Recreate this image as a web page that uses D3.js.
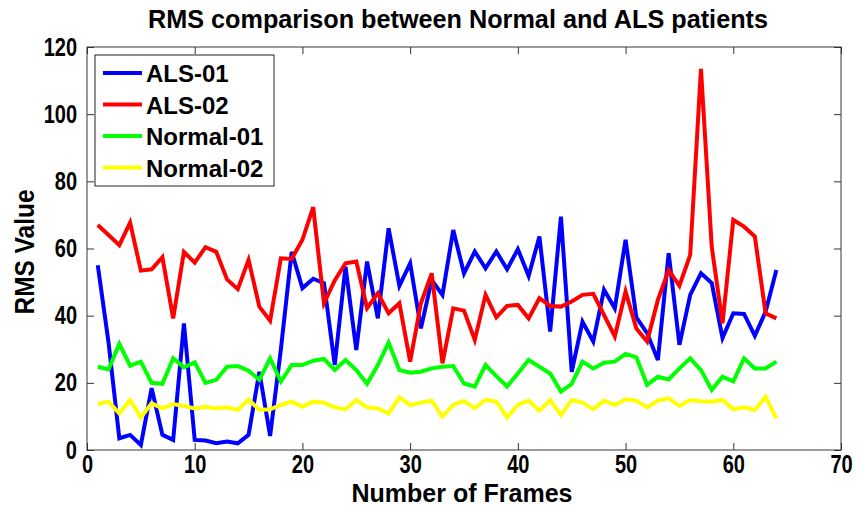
<!DOCTYPE html>
<html>
<head>
<meta charset="utf-8">
<script src="https://cdn.jsdelivr.net/npm/d3@7"></script>
<style>
  body { margin: 0; background: #fff; }
  text { font-family: "Liberation Sans", Arial, sans-serif; font-weight: bold; }
</style>
</head>
<body>
<svg id="chart"></svg>
<script>
// chart data
let frames = d3.range(1, 65)

let als01 = [55, 32, 3.5, 4.5, 1.5, 18.4, 4.5, 3, 37.7, 3, 2.8, 2, 2.5, 2, 4.5, 23.3,
  4.2, 30, 59, 48.2, 51, 49.7, 25.3, 54.6, 29.8, 56.1, 39.2, 66, 48.9, 55.6, 36.2, 50.6,
  46.2, 65.5, 52.6, 59.1, 54.1, 59.1, 53.8, 59.8, 51.8, 63.6, 35.3, 69.5, 23.3, 38.2,
  32.3, 47.7, 42.2, 62.6, 39.5, 34.8, 26.8, 58.6, 31.3, 46.2, 52.6, 49.7, 33.3, 40.7,
  40.5, 34, 41.2, 53.6]

let als02 = [67, 64, 61, 67.7, 53.4, 53.8, 57.4, 39.2, 59, 55.8, 60.4, 59, 50.8, 47.9,
  56.6, 42.7, 38.5, 57.1, 56.9, 62.6, 72.3, 43.7, 50.5, 55.6, 56.1, 42.2, 46.7, 40.7,
  43.7, 26.3, 43.7, 52.6, 25.8, 42.2, 41.5, 32.8, 46.2, 39.5, 42.9, 43.2, 39.2, 45.2,
  42.9, 42.7, 44.2, 46.2, 46.5, 40.2, 33.8, 47.2, 36.2, 32.3, 44.7, 53.6, 48.9, 58.1,
  113.5, 60.5, 37.7, 68.5, 66.5, 63.6, 40.7, 39.2]

let normal01 = [24.8, 24, 31.6, 25.1, 26.3, 20, 19.7, 27.3, 24.6, 26.1, 20, 20.9, 24.8,
  25, 23.6, 20.9, 27.3, 20.4, 25.3, 25.3, 26.6, 27.1, 23.8, 26.8, 23.8, 19.7, 25.3, 32,
  23.8, 23, 23.3, 24.3, 24.8, 25, 19.8, 18.9, 25.3, 22, 18.9, 22.8, 26.8, 24.8, 22.8,
  17.4, 19.7, 26.3, 24.3, 26, 26.3, 28.6, 27.6, 19.4, 21.8, 21, 24.3, 27.3, 23.8, 17.9,
  21.8, 20.4, 27.3, 24.3, 24.3, 26.3]

let normal02 = [13.7, 14.4, 10.9, 14.9, 9.7, 13.9, 12.4, 13.7, 13.1, 12.4, 12.9, 12.4,
  12.7, 11.9, 15.1, 11.9, 12.1, 13.4, 14.4, 12.9, 14.4, 14.1, 12.7, 12.1, 14.9, 12.7,
  12.4, 10.9, 15.7, 13.4, 14.1, 14.7, 9.9, 13.4, 14.6, 12.4, 14.9, 14.4, 9.7, 13.4,
  14.7, 11.7, 14.9, 10.4, 14.9, 14.1, 12.1, 14.7, 13.4, 15.1, 14.7, 12.7, 14.7, 15.4,
  13.1, 14.9, 14.5, 14.4, 14.9, 12.1, 12.7, 11.9, 15.9, 9.4]

let seriesNames = ['ALS-01', 'ALS-02', 'Normal-01', 'Normal-02']
let seriesColors = ['#0000ff', '#ff0000', '#00ff00', '#ffff00']
let xTicks = [0, 10, 20, 30, 40, 50, 60, 70]
let yTicks = [0, 20, 40, 60, 80, 100, 120]

let width = 857
let height = 506
let plotLeft = 87, plotRight = 841, plotTop = 47, plotBottom = 450
let squeeze = 0.8 // the original font is a narrow bold face

let svg = d3.select('#chart')
    .attr('width', width)
    .attr('height', height)

let xScale = d3.scaleLinear().domain([0, 70]).range([plotLeft, plotRight])
let yScale = d3.scaleLinear().domain([0, 120]).range([plotBottom, plotTop])

let allSeries = [als01, als02, normal01, normal02]

// box
svg.append('rect')
    .attr('x', plotLeft).attr('y', plotTop)
    .attr('width', plotRight - plotLeft).attr('height', plotBottom - plotTop)
    .attr('fill', 'none')
    .attr('stroke', '#666')
    .attr('stroke-width', 1.3)

// axes, ticks pointing inward
let xAxis = d3.axisBottom(xScale).tickValues(xTicks).tickSizeInner(-7).tickSizeOuter(0).tickPadding(5)
let xAxisTop = d3.axisTop(xScale).tickValues(xTicks).tickSizeInner(-7).tickSizeOuter(0).tickFormat('')
let yAxis = d3.axisLeft(yScale).tickValues(yTicks).tickSizeInner(-7).tickSizeOuter(0).tickPadding(0)
let yAxisRight = d3.axisRight(yScale).tickValues(yTicks).tickSizeInner(-7).tickSizeOuter(0).tickFormat('')

let styleAxis = (g) => {
    g.select('.domain').remove()
    g.selectAll('line').attr('stroke', '#333')
    g.selectAll('text')
        .attr('fill', '#000')
        .style('font-size', '25px')
}

svg.append('g').attr('transform', 'translate(0,' + plotBottom + ')').call(xAxis).call(styleAxis)
    .selectAll('text').attr('transform', 'scale(' + squeeze + ',1)')
svg.append('g').attr('transform', 'translate(0,' + plotTop + ')').call(xAxisTop).call(styleAxis)
svg.append('g').attr('transform', 'translate(' + plotLeft + ',0)').call(yAxis).call(styleAxis)
    .selectAll('text').attr('x', 0).attr('transform', 'translate(-10,0) scale(' + squeeze + ',1)')
svg.append('g').attr('transform', 'translate(' + plotRight + ',0)').call(yAxisRight).call(styleAxis)

// lines
let line = d3.line()
    .x((d, i) => xScale(frames[i]))
    .y((d) => yScale(d))

svg.append('g')
    .selectAll('path')
    .data(allSeries)
    .enter()
    .append('path')
    .attr('d', (d) => line(d))
    .attr('fill', 'none')
    .attr('stroke', (d, i) => seriesColors[i])
    .attr('stroke-width', 4)
    .attr('stroke-linejoin', 'miter')

// legend
let legend = svg.append('g')
legend.append('rect')
    .attr('x', 95).attr('y', 55)
    .attr('width', 179).attr('height', 131)
    .attr('fill', '#fff')
    .attr('stroke', '#222')
    .attr('stroke-width', 1)

seriesNames.forEach((name, i) => {
    let ly = 73 + i * 31.5
    legend.append('line')
        .attr('x1', 103).attr('x2', 142)
        .attr('y1', ly).attr('y2', ly)
        .attr('stroke', seriesColors[i])
        .attr('stroke-width', 4)
    legend.append('text')
        .attr('x', 146).attr('y', ly + 9)
        .style('font-size', '24px')
        .text(name)
})

// titles
svg.append('text')
    .attr('x', 458).attr('y', 28)
    .attr('text-anchor', 'middle')
    .attr('textLength', 620)
    .attr('lengthAdjust', 'spacingAndGlyphs')
    .style('font-size', '25px')
    .text('RMS comparison between Normal and ALS patients')

svg.append('text')
    .attr('x', 462).attr('y', 502)
    .attr('text-anchor', 'middle')
    .attr('textLength', 221)
    .attr('lengthAdjust', 'spacingAndGlyphs')
    .style('font-size', '25px')
    .text('Number of Frames')

svg.append('text')
    .attr('transform', 'translate(34,252) rotate(-90)')
    .attr('text-anchor', 'middle')
    .attr('textLength', 125)
    .attr('lengthAdjust', 'spacingAndGlyphs')
    .style('font-size', '27px')
    .text('RMS Value')
</script>
</body>
</html>
